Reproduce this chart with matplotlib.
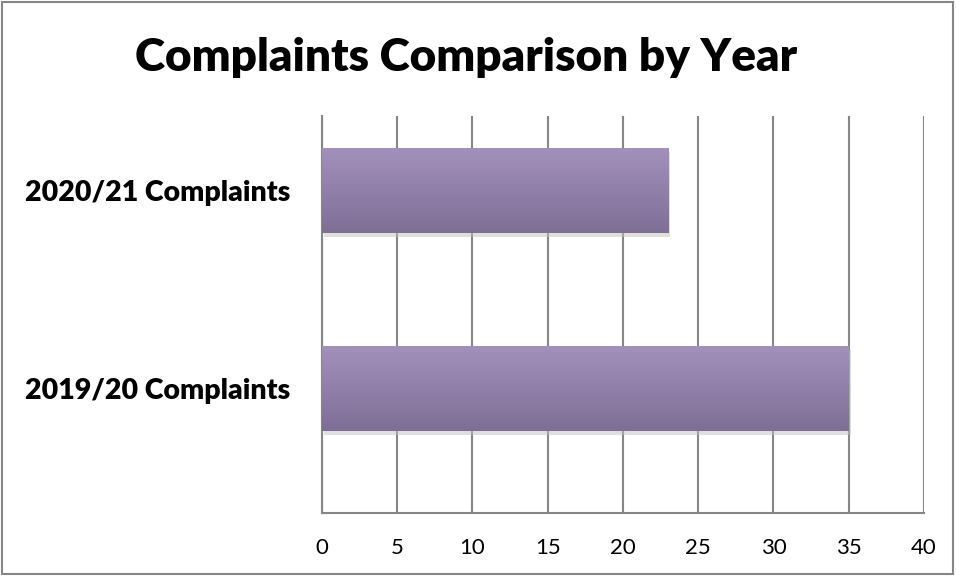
import numpy as np
import matplotlib
matplotlib.use("Agg")
import matplotlib.pyplot as plt
import matplotlib.patheffects as pe
from matplotlib.patches import Rectangle

categories = ["2019/20 Complaints", "2020/21 Complaints"]
complaints = [35, 23]
x_ticks = [0, 5, 10, 15, 20, 25, 30, 35, 40]

plt.rcParams['font.family'] = ['Lato', 'DejaVu Sans']

fig = plt.figure(figsize=(9.56, 5.76), dpi=100)
ax = fig.add_axes([0.3368, 0.1094, 0.6297, 0.6892])

# figure border
fig.patches.append(Rectangle((0.002, 0.003), 0.995, 0.993, transform=fig.transFigure,
                             fill=False, edgecolor="#868686", linewidth=1.5))

pos = np.arange(len(categories))
bars = ax.barh(pos, complaints, height=0.43, color="#9282A8", zorder=3,
               path_effects=[pe.SimplePatchShadow(offset=(1.5, -3), shadow_rgbFace="#c0c0c0", alpha=0.5),
                             pe.Normal()])

# vertical gradient fill over each bar
top_c = np.array([163, 145, 189]) / 255
bot_c = np.array([127, 110, 148]) / 255
t = np.linspace(0, 1, 100)[:, None]
grad = (top_c * (1 - t) + bot_c * t)[:, None, :]
for b in bars:
    x0, y0, w, h = b.get_x(), b.get_y(), b.get_width(), b.get_height()
    im = ax.imshow(grad, extent=[x0, x0 + w, y0, y0 + h], aspect="auto",
                   origin="upper", zorder=4, interpolation="bilinear")
    im.set_clip_path(b)

ax.set_xlim(0, 40)
ax.set_ylim(-0.63, 1.374)
ax.set_xticks(x_ticks)
ax.set_xticklabels([str(v) for v in x_ticks], fontsize=16)
ax.set_yticks(pos)
ax.set_yticklabels(categories, fontsize=20.5, fontweight="heavy")
ax.tick_params(axis="both", length=0)
ax.tick_params(axis="x", pad=18)
ax.tick_params(axis="y", pad=23)

ax.grid(axis="x", color="#868686", linewidth=1.5, zorder=0)
ax.set_axisbelow(True)
for s in ["top", "right"]:
    ax.spines[s].set_visible(False)
for s in ["left", "bottom"]:
    ax.spines[s].set_color("#868686")
    ax.spines[s].set_linewidth(1.5)

fig.text(0.488, 0.90, "Complaints Comparison by Year", ha="center", va="center",
         fontsize=33, fontweight="heavy")

fig.savefig("out.png", dpi=100)
